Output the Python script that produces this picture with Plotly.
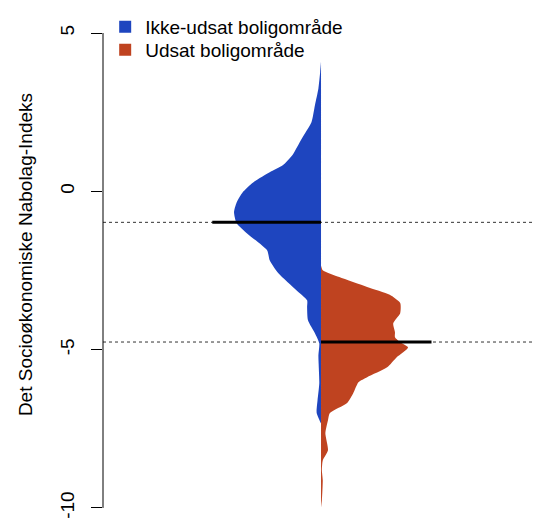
import plotly.graph_objects as go

# values (index value, relative half-width of the bean)
blue_y = [4.10, 3.76, 3.25, 2.72, 2.18, 1.67, 1.14, 0.82, 0.60, 0.28, -0.03, -0.35,
          -0.66, -1.01, -1.33, -1.86, -2.18, -2.59, -3.13, -3.44, -3.66, -4.07, -4.48,
          -4.80, -5.18, -6.06, -6.60, -7.00, -7.33]
blue_w = [0.00, 0.01, 0.03, 0.07, 0.11, 0.22, 0.33, 0.44, 0.59, 0.78, 0.90, 0.97,
          1.00, 0.97, 0.85, 0.62, 0.59, 0.49, 0.28, 0.16, 0.16, 0.15, 0.07,
          0.02, 0.03, 0.02, 0.04, 0.05, 0.00]

red_y = [-2.34, -2.49, -2.71, -3.02, -3.27, -3.53, -3.85, -4.17, -4.45, -4.61, -4.77,
         -4.93, -5.24, -5.56, -5.87, -6.03, -6.38, -6.69, -7.01, -7.23, -7.64, -8.18,
         -8.50, -8.81, -9.12, -9.75, -10.00]
red_w = [0.00, 0.02, 0.21, 0.53, 0.79, 0.91, 0.91, 0.83, 0.85, 0.85, 0.91,
         1.00, 0.87, 0.76, 0.53, 0.43, 0.37, 0.30, 0.10, 0.08, 0.05, 0.08,
         0.02, 0.01, 0.02, 0.01, 0.00]

group_names = ["Ikke-udsat boligområde", "Udsat boligområde"]
group_means = [-0.98, -4.76]
colors = ["#1e45bf", "#bf4320"]

tick_vals = [5, 0, -5, -10]
tick_text = ["5", "0", "-5", "-10"]

FONT = "Liberation Sans, Arial, sans-serif"

fig = go.Figure()

# blue half goes to the left, red half to the right
fig.add_trace(go.Scatter(
    x=[0] + [-w for w in blue_w] + [0],
    y=[blue_y[0]] + blue_y + [blue_y[-1]],
    fill="toself", fillcolor=colors[0], mode="lines",
    line=dict(width=0, shape="spline", smoothing=0.6),
    showlegend=False, hoverinfo="skip",
))
fig.add_trace(go.Scatter(
    x=[0] + red_w + [0],
    y=[red_y[0]] + red_y + [red_y[-1]],
    fill="toself", fillcolor=colors[1], mode="lines",
    line=dict(width=0, shape="spline", smoothing=0.6),
    showlegend=False, hoverinfo="skip",
))

# mean lines
fig.add_trace(go.Scatter(
    x=[-1.25, 0], y=[group_means[0]] * 2, mode="lines",
    line=dict(color="black", width=3), showlegend=False, hoverinfo="skip",
))
fig.add_trace(go.Scatter(
    x=[0, 1.27], y=[group_means[1]] * 2, mode="lines",
    line=dict(color="black", width=3), showlegend=False, hoverinfo="skip",
))

# legend entries, one legend box each so the row spacing can be set
for name, col, lg in zip(group_names, colors, ["legend", "legend2"]):
    fig.add_trace(go.Scatter(
        x=[None], y=[None], mode="markers", name=name, legend=lg,
        marker=dict(symbol="square", size=13, color=col),
    ))

for m in group_means:
    fig.add_shape(type="line", xref="paper", x0=0, x1=1, yref="y", y0=m, y1=m,
                  line=dict(color="#333333", width=1, dash="dot"), layer="below")

# R-style axis line only between the outer ticks
fig.add_shape(type="line", xref="paper", x0=0, x1=0, yref="y", y0=-10, y1=5,
              line=dict(color="black", width=1))

fig.add_annotation(
    text="Det Socioøkonomiske Nabolag-Indeks", xref="paper", yref="y",
    x=-0.206, y=-2.0, textangle=-90, showarrow=False,
    font=dict(family=FONT, size=19, color="black"),
)

legend_style = dict(xanchor="left", yanchor="top", bgcolor="rgba(0,0,0,0)",
                    font=dict(family=FONT, size=19), itemsizing="constant")

fig.update_layout(
    width=532, height=511,
    margin=dict(l=95, r=0, t=0, b=0),
    plot_bgcolor="white", paper_bgcolor="white",
    font=dict(family=FONT, size=19, color="black"),
    xaxis=dict(range=[-2.506, 2.517], visible=False, fixedrange=True),
    yaxis=dict(
        range=[-10.35, 5.79], tickvals=tick_vals, ticktext=tick_text,
        tickangle=-90, ticks="outside", ticklen=11, tickwidth=1, tickcolor="black",
        showline=False, showgrid=False, zeroline=False, ticklabelstandoff=9,
        tickfont=dict(family=FONT, size=19, color="black"),
    ),
    legend=dict(x=0.005, y=1.0, **legend_style),
    legend2=dict(x=0.005, y=1 - 23 / 511, **legend_style),
)

fig.write_html("out.html")
